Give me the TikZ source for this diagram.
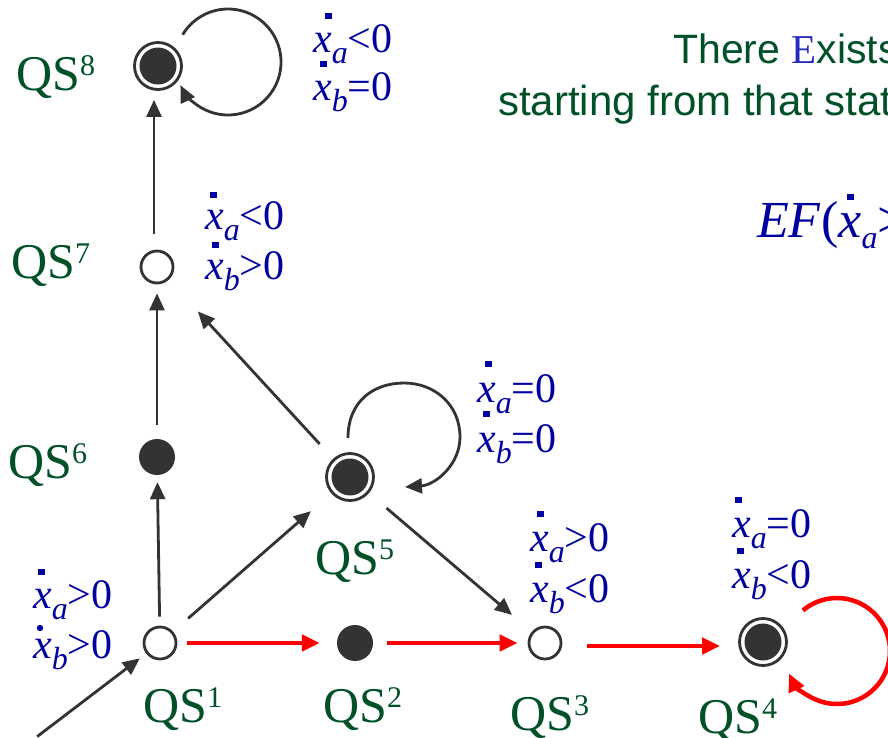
\documentclass[tikz,border=0pt]{standalone}
\usepackage{fontspec}
\setmainfont{Liberation Serif}
\setsansfont{Liberation Sans}
\usetikzlibrary{arrows.meta}
\definecolor{qsgreen}{RGB}{0,80,40}
\definecolor{lblue}{RGB}{0,0,160}
\definecolor{eblue}{RGB}{40,40,190}
\definecolor{dgray}{RGB}{51,51,51}
\definecolor{rred}{RGB}{255,0,0}
\newcommand{\sups}[1]{\raisebox{15pt}{\fontsize{30}{30}\selectfont #1}}
\newcommand{\dx}[4]{\rlap{\hspace{#1}\raisebox{#2}{\rule{6.5pt}{6.5pt}}}\textit{x}\raisebox{-11pt}{\fontsize{32}{32}\selectfont\textit{#3}}#4}
\newcommand{\nx}[2]{\textit{x}\raisebox{-11pt}{\fontsize{32}{32}\selectfont\textit{#1}}#2}
\tikzset{
  openst/.style={circle, draw=dgray, line width=2.8pt, minimum size=32pt, inner sep=0pt},
  fullst/.style={circle, fill=dgray, minimum size=36pt, inner sep=0pt},
  finalst/.style={circle, draw=dgray, line width=2.8pt, minimum size=47pt, inner sep=0pt,
    path picture={\fill[dgray] (path picture bounding box.center) circle (18.5pt);}},
  qs/.style={text=qsgreen, font=\fontsize{50}{50}\selectfont, anchor=base west, inner sep=0pt},
  cond/.style={text=lblue, font=\fontsize{42}{48}\selectfont, anchor=base west, inner sep=0pt},
  blk/.style={draw=dgray, line width=2.8pt, -{Triangle[length=17pt,width=15pt]}},
  redarr/.style={draw=rred, line width=4.5pt, -{Triangle[length=18pt,width=16pt]}},
}
\begin{document}
\begin{tikzpicture}[x=1pt,y=-1pt]
\useasboundingbox (0,0) rectangle (888,737);
\clip (0,0) rectangle (888,737);
\fill[white] (0,0) rectangle (888,737);

% states
\node[finalst] (q8) at (158,66) {};
\node[openst] (q7) at (157,267) {};
\node[fullst] (q6) at (157,457) {};
\node[finalst] (q5) at (350,477) {};
\node[openst] (q1) at (160,643) {};
\node[fullst] (q2) at (355,643) {};
\node[openst] (q3) at (545,643) {};
\node[finalst] (q4) at (763,642) {};
\coordinate (init) at (30,742);

% state names
\node[qs] (t8) at (16,90) {QS\sups{8}};
\node[qs] (t7) at (11,278) {QS\sups{7}};
\node[qs] (t6) at (8,478) {QS\sups{6}};
\node[qs] (t5) at (315,574) {QS\sups{5}};
\node[qs] (t1) at (143,722) {QS\sups{1}};
\node[qs] (t2) at (323,722) {QS\sups{2}};
\node[qs] (t3) at (510,730) {QS\sups{3}};
\node[qs] (t4) at (698,733) {QS\sups{4}};

% conditions
\node[cond] (c8a) at (313,52) {\dx{12pt}{33pt}{a}{<0}};
\node[cond] (c8b) at (313,100) {\dx{7pt}{33pt}{b}{=0}};
\node[cond] (c7a) at (205,229) {\dx{5pt}{31pt}{a}{<0}};
\node[cond] (c7b) at (205,279) {\dx{7pt}{31pt}{b}{>0}};
\node[cond] (c5a) at (477,402) {\dx{8pt}{35pt}{a}{=0}};
\node[cond] (c5b) at (477,452) {\dx{6pt}{35pt}{b}{=0}};
\node[cond] (c3a) at (530,551) {\dx{7pt}{34pt}{a}{>0}};
\node[cond] (c3b) at (530,602) {\dx{5pt}{34pt}{b}{<0}};
\node[cond] (c4a) at (732,537) {\dx{3pt}{34pt}{a}{=0}};
\node[cond] (c4b) at (732,588) {\dx{5pt}{34pt}{b}{<0}};
\node[cond] (c1a) at (33,608) {\dx{5pt}{33pt}{a}{>0}};
\node[cond] (c1b) at (33,658) {\nx{b}{>0}};
\fill[lblue] ([shift={(7,-30)}]c1b.base west) circle (3.2pt);

% heading
\node[anchor=base west, inner sep=0pt, text=qsgreen, font=\sffamily\fontsize{41}{41}\selectfont] (h1) at (673,63) {There {\rmfamily\color{eblue}E}xists};
\node[anchor=base west, inner sep=0pt, text=qsgreen, font=\sffamily\fontsize{42}{42}\selectfont] (h2) at (498,115) {starting from that state};
\node[anchor=base west, inner sep=0pt, text=lblue, font=\fontsize{52}{52}\selectfont] (ef) at (757,237) {\textit{EF}(\dx{9pt}{37pt}{a}{>0)}};

% black transitions
\draw[blk, shorten <=9pt, shorten >=8pt] (init) -- (q1);
\draw[blk, shorten <=16pt, shorten >=9pt] ([xshift=-3pt]q7.north) -- ([xshift=-4pt]q8.south);
\draw[blk, shorten <=14pt, shorten >=9pt] (q6) -- (q7);
\draw[blk, shorten <=9pt, shorten >=7pt] (q1) -- (q6);
\draw[blk, shorten <=20pt, shorten >=27pt] (q1) -- (q5);
\draw[blk, shorten <=20pt, shorten >=43pt] (q5) -- (q7);
\draw[blk, shorten <=23pt, shorten >=26pt] (q5) -- (q3);

% self loops
\draw[blk] ([shift={(24.6,-31.3)}]q8.center) arc[start angle=149, end angle=-154, radius=53pt];
\draw[blk] ([shift={(-2,-39)}]q5.center) .. controls (348,400) and (375,383) .. (404,383)
  .. controls (435,383) and (460,405) .. (460,437)
  .. controls (460,465) and (435,485) .. (405,487);

% red path
\draw[redarr, shorten <=10pt, shorten >=17pt] (q1) -- (q2);
\draw[redarr, shorten <=14pt, shorten >=10pt] (q2) -- (q3);
\draw[redarr, shorten <=25pt, shorten >=18pt] ([yshift=-3pt]q3.east) -- ([yshift=-4pt]q4.west);
\draw[redarr] ([shift={(39.9,-31.6)}]q4.center) arc[start angle=130, end angle=-155, radius=53pt];
\end{tikzpicture}
\end{document}
